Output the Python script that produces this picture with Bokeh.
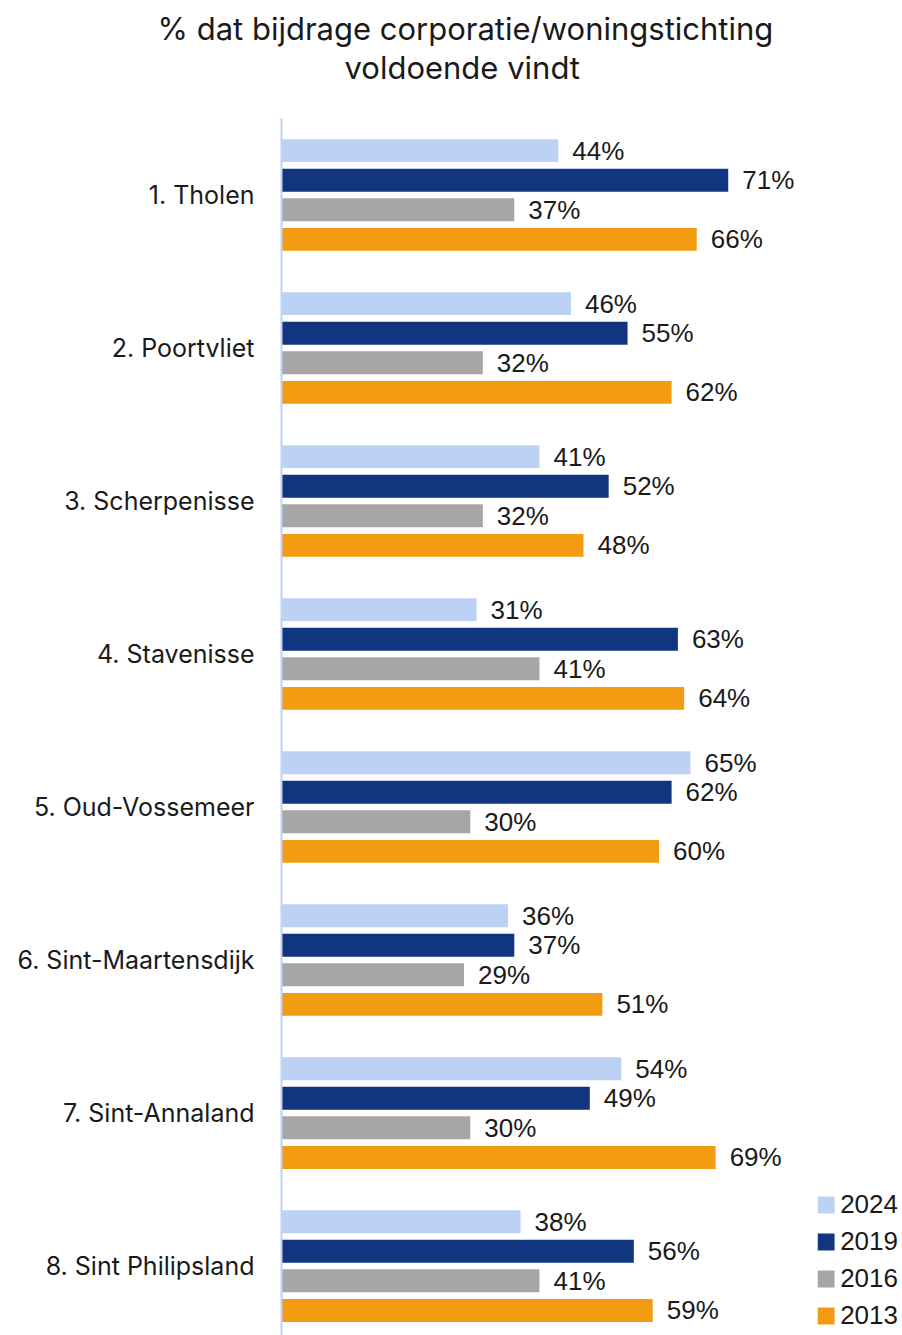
from bokeh.plotting import figure
from bokeh.models import Range1d, FixedTicker, Title, ColumnDataSource, Legend
from bokeh.transform import dodge
from bokeh.embed import file_html
from bokeh.resources import INLINE

categories = ["1. Tholen", "2. Poortvliet", "3. Scherpenisse", "4. Stavenisse",
              "5. Oud-Vossemeer", "6. Sint-Maartensdijk", "7. Sint-Annaland", "8. Sint Philipsland"]
years = ["2024", "2019", "2016", "2013"]
v2024 = [44, 46, 41, 31, 65, 36, 54, 38]
v2019 = [71, 55, 52, 63, 62, 37, 49, 56]
v2016 = [37, 32, 32, 41, 30, 29, 30, 41]
v2013 = [66, 62, 48, 64, 60, 51, 69, 59]
series = [v2024, v2019, v2016, v2013]
colors = ["#BDD1F5", "#12357F", "#A6A6A6", "#F39B12"]
title_lines = ["% dat bijdrage corporatie/woningstichting", "voldoende vindt"]

n = len(categories)
ypos = [n - 1 - i for i in range(n)]
offsets = [0.29, 0.0965, -0.0965, -0.29]

p = figure(width=902, height=1335, output_backend="svg", toolbar_location=None,
           x_range=Range1d(0, 98.7), y_range=Range1d(-0.454, 7.5),
           min_border_left=281, min_border_right=0, min_border_top=118, min_border_bottom=0)
p.outline_line_color = None
p.xgrid.visible = False
p.ygrid.visible = False
p.xaxis.visible = False
p.background_fill_color = "white"
p.border_fill_color = "white"

FONT_NUM = "Liberation Sans"
FONT_TXT = "Inter"

items = []
for yr, vals, col, off in zip(years, series, colors, offsets):
    src = ColumnDataSource(dict(y=ypos, v=vals, t=[f"{v}%" for v in vals]))
    r = p.hbar(y=dodge("y", off), right="v", left=0, height=0.15, source=src,
               fill_color=col, line_color=None)
    p.text(x="v", y=dodge("y", off), text="t", source=src, x_offset=14,
           text_baseline="middle", text_align="left", text_font_size="26px",
           text_color="#1a1a1a", text_font={"value": FONT_NUM})
    items.append((yr, [r]))

legend = Legend(items=items, location="bottom_right", padding=0, margin=4,
                spacing=6, glyph_width=21, glyph_height=21, label_standoff=4,
                label_text_font_size="26px", label_text_font=FONT_NUM,
                label_text_color="#1a1a1a", background_fill_alpha=0,
                border_line_color=None)
p.add_layout(legend)

ax = p.yaxis[0]
ax.ticker = FixedTicker(ticks=ypos)
ax.major_label_overrides = {y: c for y, c in zip(ypos, categories)}
ax.major_tick_line_color = None
ax.minor_tick_line_color = None
ax.axis_line_color = "#BDD1F5"
ax.axis_line_width = 2
ax.major_label_standoff = 21
ax.major_label_text_font_size = "25px"
ax.major_label_text_font = FONT_TXT
ax.major_label_text_color = "#1a1a1a"

p.add_layout(Title(text=title_lines[1], align="left", offset=63, standoff=65,
                   text_font_size="31px", text_font=FONT_TXT, text_font_style="normal",
                   text_color="#1a1a1a"), "above")
p.add_layout(Title(text=title_lines[0], align="left", offset=-124, standoff=-65,
                   text_font_size="31px", text_font=FONT_TXT, text_font_style="normal",
                   text_color="#1a1a1a"), "above")

open("out.html", "w").write(file_html(p, INLINE))
